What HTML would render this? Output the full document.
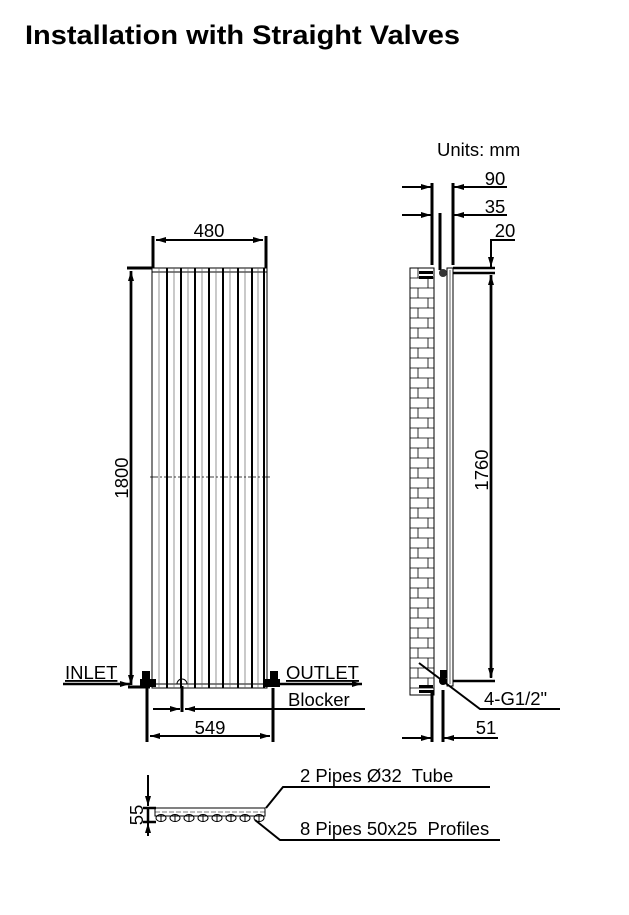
<!DOCTYPE html>
<html><head><meta charset="utf-8"><style>
body{margin:0;background:#fff;width:629px;height:915px;overflow:hidden}
svg{display:block}
text{font-family:"Liberation Sans",Arial,sans-serif;fill:#000;white-space:pre}
</style></head><body>
<svg width="629" height="915" viewBox="0 0 629 915" xmlns="http://www.w3.org/2000/svg" xml:space="preserve">
<defs>
<marker id="a" markerWidth="10" markerHeight="6" refX="10" refY="3" orient="auto" markerUnits="userSpaceOnUse"><path d="M0,0 L10,3 L0,6 Z" fill="#000"/></marker>
</defs>
<text x="25" y="44" font-size="27" font-weight="bold" textLength="435" lengthAdjust="spacingAndGlyphs">Installation with Straight Valves</text>
<text x="437" y="156" font-size="18.5">Units: mm</text>

<!-- FRONT VIEW -->
<g stroke="#000" fill="none">
<rect x="152" y="268" width="115" height="420" stroke-width="1"/>
<line x1="152" y1="272" x2="267" y2="272" stroke-width="1"/>
<line x1="152" y1="684" x2="267" y2="684" stroke-width="1"/>
<g stroke-width="2">
<line x1="167" y1="268" x2="167" y2="688"/><line x1="181" y1="268" x2="181" y2="688"/>
<line x1="195" y1="268" x2="195" y2="688"/><line x1="209" y1="268" x2="209" y2="688"/>
<line x1="223" y1="268" x2="223" y2="688"/><line x1="238" y1="268" x2="238" y2="688"/>
<line x1="252" y1="268" x2="252" y2="688"/><line x1="264" y1="268" x2="264" y2="688"/>
</g>
<g stroke-width="0.7" stroke="#666">
<line x1="159" y1="268" x2="159" y2="688"/><line x1="174" y1="268" x2="174" y2="688"/>
<line x1="188" y1="268" x2="188" y2="688"/><line x1="202" y1="268" x2="202" y2="688"/>
<line x1="216" y1="268" x2="216" y2="688"/><line x1="230" y1="268" x2="230" y2="688"/>
<line x1="245" y1="268" x2="245" y2="688"/><line x1="258" y1="268" x2="258" y2="688"/>
</g>
<line x1="150" y1="477" x2="270" y2="477" stroke-width="0.8" stroke-dasharray="8,2,2,2"/>
<line x1="153" y1="236" x2="153" y2="268" stroke-width="3"/>
<line x1="266" y1="236" x2="266" y2="268" stroke-width="3"/>
<line x1="156" y1="240" x2="263" y2="240" stroke-width="2" marker-end="url(#a)"/>
<line x1="263" y1="240" x2="156" y2="240" stroke-width="2" marker-end="url(#a)"/>
<line x1="127" y1="268" x2="152" y2="268" stroke-width="3"/>
<line x1="131" y1="685" x2="131" y2="271" stroke-width="2.5" marker-end="url(#a)"/>
<line x1="131" y1="271" x2="131" y2="685" stroke-width="2.5" marker-end="url(#a)"/>
<line x1="63" y1="684" x2="130" y2="684" stroke-width="2.5" marker-end="url(#a)"/>
<line x1="128" y1="687" x2="150" y2="687" stroke-width="3"/>
<line x1="275" y1="684" x2="362" y2="684" stroke-width="2.5" marker-end="url(#a)"/>
<path d="M177,684 a5,5 0 0 1 10,0" stroke-width="1"/>
<line x1="182" y1="686" x2="182" y2="712" stroke-width="3"/>
<line x1="153" y1="709" x2="180" y2="709" stroke-width="2" marker-end="url(#a)"/>
<line x1="365" y1="709" x2="185" y2="709" stroke-width="2" marker-end="url(#a)"/>
<line x1="147" y1="688" x2="147" y2="742" stroke-width="3"/>
<line x1="273" y1="688" x2="273" y2="742" stroke-width="3"/>
<line x1="150" y1="736" x2="270" y2="736" stroke-width="2" marker-end="url(#a)"/>
<line x1="270" y1="736" x2="150" y2="736" stroke-width="2" marker-end="url(#a)"/>
</g>
<rect x="142" y="671" width="8" height="9" fill="#000"/>
<rect x="140" y="679" width="16" height="8" fill="#000"/>
<rect x="270" y="671" width="8" height="9" fill="#000"/>
<rect x="264" y="679" width="16" height="8" fill="#000"/>
<text x="209" y="237" font-size="18.5" text-anchor="middle">480</text>
<text transform="translate(128,478) rotate(-90)" font-size="18.5" text-anchor="middle">1800</text>
<text x="65" y="679" font-size="18.5" text-decoration="underline">INLET</text>
<text x="286" y="679" font-size="18.5" text-decoration="underline">OUTLET</text>
<text x="288" y="706" font-size="18.5">Blocker</text>
<text x="210" y="734" font-size="18.5" text-anchor="middle">549</text>

<!-- SIDE VIEW -->
<rect x="410" y="268" width="24" height="427" stroke="#000" fill="none" stroke-width="1"/>
<g stroke="#000" stroke-width="0.8">
<path d="M410 278H434M410 288H434M410 298H434M410 308H434M410 318H434M410 328H434M410 338H434M410 348H434M410 358H434M410 368H434M410 378H434M410 388H434M410 398H434M410 408H434M410 418H434M410 428H434M410 438H434M410 448H434M410 458H434M410 468H434M410 478H434M410 488H434M410 498H434M410 508H434M410 518H434M410 528H434M410 538H434M410 548H434M410 558H434M410 568H434M410 578H434M410 588H434M410 598H434M410 608H434M410 618H434M410 628H434M410 638H434M410 648H434M410 658H434M410 668H434M410 678H434M410 688H434"/>
<path d="M418 268V278M428 278V288M418 288V298M428 298V308M418 308V318M428 318V328M418 328V338M428 338V348M418 348V358M428 358V368M418 368V378M428 378V388M418 388V398M428 398V408M418 408V418M428 418V428M418 428V438M428 438V448M418 448V458M428 458V468M418 468V478M428 478V488M418 488V498M428 498V508M418 508V518M428 518V528M418 528V538M428 538V548M418 548V558M428 558V568M418 568V578M428 578V588M418 588V598M428 598V608M418 608V618M428 618V628M418 628V638M428 638V648M418 648V658M428 658V668M418 668V678M428 678V688"/>
</g>
<g stroke="#000" fill="none">
<rect x="447" y="268" width="6" height="418" stroke-width="1"/>
<line x1="450" y1="270" x2="450" y2="684" stroke-width="0.6"/>
<line x1="432" y1="183" x2="432" y2="265" stroke-width="3"/>
<line x1="453" y1="183" x2="453" y2="265" stroke-width="3"/>
<line x1="402" y1="187" x2="431" y2="187" stroke-width="2" marker-end="url(#a)"/>
<line x1="507" y1="187" x2="454" y2="187" stroke-width="2" marker-end="url(#a)"/>
<line x1="440" y1="213" x2="440" y2="270" stroke-width="3"/>
<line x1="402" y1="215" x2="431" y2="215" stroke-width="2" marker-end="url(#a)"/>
<line x1="507" y1="215" x2="454" y2="215" stroke-width="2" marker-end="url(#a)"/>
<polyline points="515,240 491,240 491,266" stroke-width="2"/>
<line x1="491" y1="256" x2="491" y2="267" stroke-width="2" marker-end="url(#a)"/>
<line x1="453" y1="268" x2="495" y2="268" stroke-width="2.5"/>
<line x1="453" y1="273" x2="495" y2="273" stroke-width="2.5"/>
<line x1="491" y1="677" x2="491" y2="275" stroke-width="2.5" marker-end="url(#a)"/>
<line x1="491" y1="275" x2="491" y2="678" stroke-width="2.5" marker-end="url(#a)"/>
<line x1="453" y1="681" x2="495" y2="681" stroke-width="2.5"/>
<polyline points="419,663 480,709 560,709" stroke-width="2"/>
<line x1="432" y1="690" x2="432" y2="742" stroke-width="3"/>
<line x1="443" y1="690" x2="443" y2="742" stroke-width="3"/>
<line x1="402" y1="738" x2="431" y2="738" stroke-width="2" marker-end="url(#a)"/>
<line x1="498" y1="738" x2="444" y2="738" stroke-width="2" marker-end="url(#a)"/>
</g>
<circle cx="443" cy="273" r="4" fill="#333"/>
<rect x="419" y="271" width="14" height="3" fill="#000"/>
<rect x="419" y="276" width="14" height="3" fill="#000"/>
<circle cx="443" cy="681" r="4" fill="#000"/>
<rect x="440" y="670" width="7" height="8" fill="#000"/>
<rect x="419" y="685" width="14" height="3" fill="#000"/>
<rect x="419" y="690" width="14" height="3" fill="#000"/>
<text x="495" y="185" font-size="18.5" text-anchor="middle">90</text>
<text x="495" y="213" font-size="18.5" text-anchor="middle">35</text>
<text x="505" y="237" font-size="18.5" text-anchor="middle">20</text>
<text transform="translate(488,470) rotate(-90)" font-size="18.5" text-anchor="middle">1760</text>
<text x="484" y="705" font-size="18.5">4-G1/2"</text>
<text x="486" y="734" font-size="18.5" text-anchor="middle">51</text>

<!-- PLAN VIEW -->
<g stroke="#000" fill="none">
<rect x="155" y="808" width="110" height="8" stroke-width="1"/>
<line x1="155" y1="812" x2="265" y2="812" stroke-width="0.6" stroke-dasharray="5,2"/>
<g stroke-width="1">
<ellipse cx="161" cy="818" rx="5" ry="3.5"/><ellipse cx="175" cy="818" rx="5" ry="3.5"/>
<ellipse cx="189" cy="818" rx="5" ry="3.5"/><ellipse cx="203" cy="818" rx="5" ry="3.5"/>
<ellipse cx="217" cy="818" rx="5" ry="3.5"/><ellipse cx="231" cy="818" rx="5" ry="3.5"/>
<ellipse cx="245" cy="818" rx="5" ry="3.5"/><ellipse cx="259" cy="818" rx="5" ry="3.5"/>
<line x1="161" y1="814" x2="161" y2="822"/><line x1="175" y1="814" x2="175" y2="822"/>
<line x1="189" y1="814" x2="189" y2="822"/><line x1="203" y1="814" x2="203" y2="822"/>
<line x1="217" y1="814" x2="217" y2="822"/><line x1="231" y1="814" x2="231" y2="822"/>
<line x1="245" y1="814" x2="245" y2="822"/><line x1="259" y1="814" x2="259" y2="822"/>
</g>
<line x1="148" y1="775" x2="148" y2="806" stroke-width="2" marker-end="url(#a)"/>
<line x1="148" y1="836" x2="148" y2="823" stroke-width="2" marker-end="url(#a)"/>
<line x1="143" y1="808" x2="156" y2="808" stroke-width="2.5"/>
<line x1="143" y1="822" x2="156" y2="822" stroke-width="2.5"/>
<line x1="148" y1="808" x2="148" y2="822" stroke-width="2.5"/>
<polyline points="266,808 283,787 490,787" stroke-width="2"/>
<polyline points="255,820 280,840 500,840" stroke-width="2"/>
</g>
<text transform="translate(143,815) rotate(-90)" font-size="18.5" text-anchor="middle">55</text>
<text x="300" y="782" font-size="18.5">2 Pipes Ø32  Tube</text>
<text x="300" y="835" font-size="18.5">8 Pipes 50x25  Profiles</text>
</svg>
</body></html>
